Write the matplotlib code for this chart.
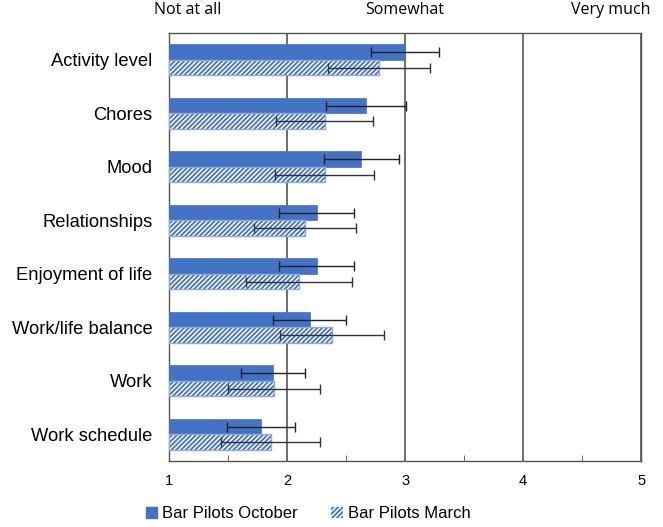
import matplotlib
matplotlib.use("Agg")
import matplotlib.pyplot as plt
from matplotlib.patches import Patch
import numpy as np

categories = ["Activity level", "Chores", "Mood", "Relationships",
              "Enjoyment of life", "Work/life balance", "Work", "Work schedule"]
october = [3.00, 2.67, 2.63, 2.25, 2.25, 2.19, 1.88, 1.78]
october_err = [0.29, 0.34, 0.32, 0.32, 0.32, 0.31, 0.27, 0.29]
march = [2.78, 2.32, 2.32, 2.15, 2.10, 2.38, 1.89, 1.86]
march_err = [0.43, 0.41, 0.42, 0.43, 0.45, 0.44, 0.39, 0.42]
xticks = [1, 2, 3, 4, 5]
scale_labels = ["Not at all", "Somewhat", "Very much"]
series_names = ["Bar Pilots October", "Bar Pilots March"]

blue = "#4472C4"
light = "#8FAADC"

fig = plt.figure(figsize=(6.63, 5.27), dpi=100)
ax = fig.add_axes([0.255, 0.125, 0.712, 0.812])

n = len(categories)
y = np.arange(n)
h = 0.29
base = 1

ax.barh(y - h / 2, np.array(october) - base, left=base, height=h,
        color=blue, edgecolor=blue, linewidth=0.5, zorder=3)
plt.rcParams["hatch.color"] = "white"
plt.rcParams["hatch.linewidth"] = 1.1
ax.barh(y + h / 2, np.array(march) - base, left=base, height=h,
        color=blue, edgecolor="white", hatch="///////", linewidth=0, zorder=3)
ax.barh(y + h / 2, np.array(march) - base, left=base, height=h,
        facecolor="none", edgecolor=light, linewidth=1.0, zorder=4)

ax.errorbar(october, y - h / 2, xerr=october_err, fmt="none", ecolor="#222222",
            elinewidth=1, capsize=3.5, capthick=1, zorder=5)
ax.errorbar(march, y + h / 2, xerr=march_err, fmt="none", ecolor="#333333",
            elinewidth=1, capsize=3.5, capthick=1, zorder=5)

ax.set_xlim(1, 5)
ax.set_ylim(n - 0.5, -0.5)
ax.set_xticks(xticks)
ax.set_xticks([1.5, 2.5, 3.5, 4.5], minor=True)
ax.set_xticklabels([str(t) for t in xticks], fontsize=10.5, family="Liberation Sans")
ax.tick_params(axis="x", which="major", length=0, pad=9)
ax.tick_params(axis="x", which="minor", direction="in", length=4, color="#555555")
ax.set_yticks(y)
ax.set_yticklabels(categories, fontsize=13.2, family="Liberation Sans")
ax.tick_params(axis="y", length=0, pad=12)

ax.grid(axis="x", which="major", color="#555555", linewidth=1.2, zorder=1)
for s in ax.spines.values():
    s.set_color("#555555")
    s.set_linewidth(1.0)

ax.text(1.16, -0.78, scale_labels[0], ha="center", va="bottom", fontsize=11.5,
        family="Open Sans", transform=ax.transData)
ax.text(3.0, -0.78, scale_labels[1], ha="center", va="bottom", fontsize=11.5,
        family="Open Sans", transform=ax.transData)
ax.text(4.74, -0.78, scale_labels[2], ha="center", va="bottom", fontsize=11.5,
        family="Open Sans", transform=ax.transData)

handles = [Patch(facecolor=blue, edgecolor=blue),
           Patch(facecolor=blue, edgecolor="white", hatch="///////", linewidth=0)]
leg = fig.legend(handles, series_names, loc="lower center", bbox_to_anchor=(0.465, -0.018),
                 ncol=2, frameon=False, prop={"family": "Liberation Sans", "size": 12},
                 handlelength=0.7, handleheight=0.7, handletextpad=0.3, columnspacing=2.0)

fig.savefig("out.png", dpi=100)
